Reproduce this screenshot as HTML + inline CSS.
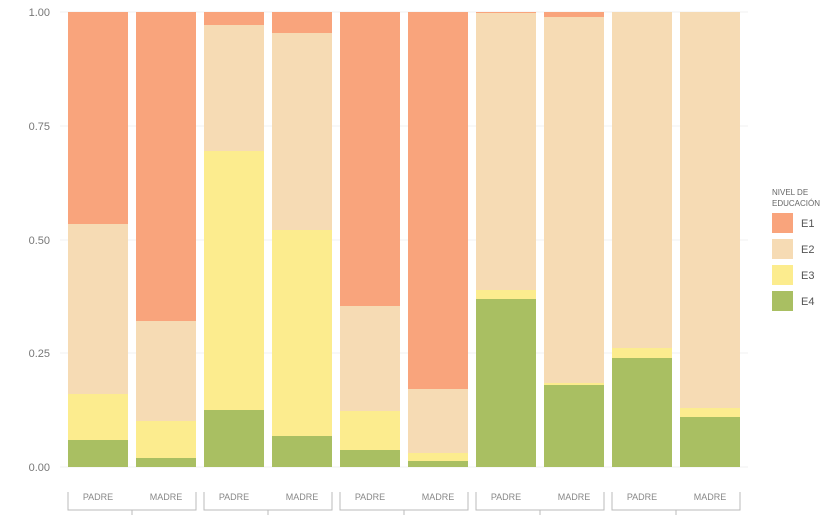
<!DOCTYPE html>
<html><head><style>body{margin:0;background:#fff}svg{display:block}text{font-family:"Liberation Sans",sans-serif}</style></head>
<body>
<svg width="840" height="520" xmlns="http://www.w3.org/2000/svg">
<g stroke="#f0f0f0" stroke-width="1">
<line x1="60" y1="12" x2="748" y2="12"/><line x1="60" y1="126" x2="748" y2="126"/><line x1="60" y1="240" x2="748" y2="240"/><line x1="60" y1="353" x2="748" y2="353"/><line x1="60" y1="467" x2="748" y2="467"/>
</g>
<g font-size="11" fill="#777" text-anchor="end">
<text x="50" y="16">1.00</text><text x="50" y="130">0.75</text><text x="50" y="244">0.50</text><text x="50" y="357">0.25</text><text x="50" y="471">0.00</text>
</g>
<g>
<rect x="68" y="440" width="60" height="27" fill="#a9bf62"/><rect x="68" y="394" width="60" height="46" fill="#fcec8e"/><rect x="68" y="224" width="60" height="170" fill="#f6dbb4"/><rect x="68" y="12" width="60" height="212" fill="#f9a47c"/>
<rect x="136" y="458" width="60" height="9" fill="#a9bf62"/><rect x="136" y="421" width="60" height="37" fill="#fcec8e"/><rect x="136" y="321" width="60" height="100" fill="#f6dbb4"/><rect x="136" y="12" width="60" height="309" fill="#f9a47c"/>
<rect x="204" y="410" width="60" height="57" fill="#a9bf62"/><rect x="204" y="151" width="60" height="259" fill="#fcec8e"/><rect x="204" y="25" width="60" height="126" fill="#f6dbb4"/><rect x="204" y="12" width="60" height="13" fill="#f9a47c"/>
<rect x="272" y="436" width="60" height="31" fill="#a9bf62"/><rect x="272" y="230" width="60" height="206" fill="#fcec8e"/><rect x="272" y="33" width="60" height="197" fill="#f6dbb4"/><rect x="272" y="12" width="60" height="21" fill="#f9a47c"/>
<rect x="340" y="450" width="60" height="17" fill="#a9bf62"/><rect x="340" y="411" width="60" height="39" fill="#fcec8e"/><rect x="340" y="306" width="60" height="105" fill="#f6dbb4"/><rect x="340" y="12" width="60" height="294" fill="#f9a47c"/>
<rect x="408" y="461" width="60" height="6" fill="#a9bf62"/><rect x="408" y="453" width="60" height="8" fill="#fcec8e"/><rect x="408" y="389" width="60" height="64" fill="#f6dbb4"/><rect x="408" y="12" width="60" height="377" fill="#f9a47c"/>
<rect x="476" y="299" width="60" height="168" fill="#a9bf62"/><rect x="476" y="290" width="60" height="9" fill="#fcec8e"/><rect x="476" y="13" width="60" height="277" fill="#f6dbb4"/><rect x="476" y="12" width="60" height="1" fill="#f9a47c"/>
<rect x="544" y="385" width="60" height="82" fill="#a9bf62"/><rect x="544" y="383" width="60" height="2" fill="#fcec8e"/><rect x="544" y="17" width="60" height="366" fill="#f6dbb4"/><rect x="544" y="12" width="60" height="5" fill="#f9a47c"/>
<rect x="612" y="358" width="60" height="109" fill="#a9bf62"/><rect x="612" y="348" width="60" height="10" fill="#fcec8e"/><rect x="612" y="12" width="60" height="336" fill="#f6dbb4"/>
<rect x="680" y="417" width="60" height="50" fill="#a9bf62"/><rect x="680" y="408" width="60" height="9" fill="#fcec8e"/><rect x="680" y="12" width="60" height="396" fill="#f6dbb4"/>
</g>
<g stroke="#bbb" fill="none" stroke-width="1">
<path d="M68,492 V510 H196 V492 M132,510 V515"/>
<path d="M204,492 V510 H332 V492 M268,510 V515"/>
<path d="M340,492 V510 H468 V492 M404,510 V515"/>
<path d="M476,492 V510 H604 V492 M540,510 V515"/>
<path d="M612,492 V510 H740 V492 M676,510 V515"/>
</g>
<g font-size="9" fill="#888" text-anchor="middle">
<text x="98" y="500">PADRE</text><text x="166" y="500">MADRE</text>
<text x="234" y="500">PADRE</text><text x="302" y="500">MADRE</text>
<text x="370" y="500">PADRE</text><text x="438" y="500">MADRE</text>
<text x="506" y="500">PADRE</text><text x="574" y="500">MADRE</text>
<text x="642" y="500">PADRE</text><text x="710" y="500">MADRE</text>
</g>
<text x="772" y="195" font-size="8" fill="#666">NIVEL DE</text>
<text x="772" y="206" font-size="8" fill="#666">EDUCACIÓN</text>
<rect x="772" y="213" width="21" height="20" fill="#f9a47c"/>
<rect x="772" y="239" width="21" height="20" fill="#f6dbb4"/>
<rect x="772" y="265" width="21" height="20" fill="#fcec8e"/>
<rect x="772" y="291" width="21" height="20" fill="#a9bf62"/>
<g font-size="11" fill="#555"><text x="801" y="227">E1</text><text x="801" y="253">E2</text><text x="801" y="279">E3</text><text x="801" y="305">E4</text></g>
</svg>
</body></html>
